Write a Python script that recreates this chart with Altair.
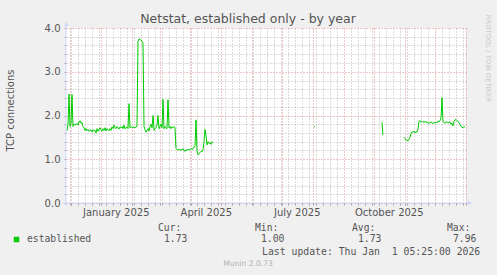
import altair as alt
import pandas as pd

# ---------------- data (daily averages) ----------------
seg1_start = "2024-11-28"
seg1_values = [
    1.65, 1.80, 2.49, 1.75, 1.82, 2.48, 1.75, 1.80, 1.78, 1.80,
    1.82, 1.78, 1.85, 1.88, 1.82, 1.84, 1.75, 1.72, 1.66, 1.70,
    1.65, 1.68, 1.64, 1.66, 1.67, 1.62, 1.68, 1.65, 1.66, 1.60,
    1.70, 1.64, 1.68, 1.72, 1.66, 1.64, 1.70, 1.66, 1.72, 1.65,
    1.70, 1.68, 1.65, 1.70, 1.66, 1.74, 1.70, 1.78, 1.72, 1.70,
    1.75, 1.72, 1.69, 1.74, 1.72, 1.75, 1.70, 1.78, 1.70, 1.72,
    1.74, 1.70, 2.27, 1.72, 1.75, 1.72, 1.74, 1.73, 1.72, 1.74,
    1.75, 3.70, 3.75, 3.74, 3.72, 3.70, 3.65, 1.75, 1.68, 1.62,
    1.66, 1.70, 1.65, 1.75, 1.80, 1.72, 2.00, 1.66, 1.70, 1.72,
    1.78, 2.00, 1.70, 1.75, 1.80, 1.72, 2.37, 1.70, 1.75, 1.72,
    1.70, 2.36, 1.72, 1.75, 1.70, 1.74, 1.72, 1.75, 1.72, 1.25,
    1.22, 1.21, 1.23, 1.20, 1.22, 1.21, 1.24, 1.20, 1.18, 1.22,
    1.20, 1.23, 1.21, 1.22, 1.25, 1.22, 1.24, 1.28, 1.30, 1.90,
    1.20, 1.10, 1.13, 1.15, 1.18, 1.17, 1.22, 1.40, 1.68, 1.55,
    1.33, 1.40, 1.36, 1.38, 1.34, 1.40, 1.38,
]
seg2_start = "2025-08-02"
seg2_values = [1.76, 1.74]
seg3_start = "2025-10-09"
seg3_values = [1.84, 1.55]
seg4_start = "2025-10-31"
seg4_values = [
    1.50, 1.47, 1.44, 1.43, 1.42, 1.46, 1.50, 1.58, 1.63, 1.62,
    1.64, 1.60, 1.63, 1.62, 1.68, 1.87, 1.88, 1.86, 1.87, 1.84,
    1.86, 1.85, 1.86, 1.84, 1.83, 1.82, 1.84, 1.85, 1.83, 1.82,
    1.84, 1.83, 1.84, 1.83, 1.87, 1.86, 1.88, 1.95, 2.41, 1.86,
    1.84, 1.82, 1.85, 1.86, 1.83, 1.84, 1.85, 1.80, 1.82, 1.76,
    1.86, 1.90, 1.91, 1.88, 1.86, 1.84, 1.80, 1.75, 1.73, 1.72,
    1.75, 1.73,
]

title_text = "Netstat, established only - by year"
y_title = "TCP connections"
series_name = "established"
stat_headers = ["Cur:", "Min:", "Avg:", "Max:"]
stat_values = ["1.73", "1.00", "1.73", "7.96"]
last_update = "Last update: Thu Jan \u00a01 05:25:00 2026"
footer = "Munin 2.0.73"
side_text = "RRDTOOL / TOBI OETIKER"
y_ticks = [0, 0.2, 0.4, 0.6, 0.8, 1, 1.2, 1.4, 1.6, 1.8, 2, 2.2, 2.4, 2.6, 2.8,
           3, 3.2, 3.4, 3.6, 3.8, 4]

rows = []
for seg_id, (start, vals) in enumerate([(seg1_start, seg1_values), (seg2_start, seg2_values),
                                        (seg3_start, seg3_values), (seg4_start, seg4_values)]):
    for d, v in zip(pd.date_range(start, periods=len(vals), freq="D"), vals):
        rows.append({"date": d.strftime("%Y-%m-%dT05:25:00"), "value": v, "seg": seg_id})
df = pd.DataFrame(rows)


def dt(ts):
    return alt.DateTime(year=ts.year, month=ts.month, date=ts.day,
                        hours=ts.hour, minutes=ts.minute)


minor = list(pd.date_range("2024-12-02", "2025-12-29", freq="7D"))
major = list(pd.date_range("2024-12-01", "2026-01-01", freq="MS"))
label_pos = [pd.Timestamp(s) for s in ["2025-01-16 00:01", "2025-04-16 00:01",
                                       "2025-07-16 00:01", "2025-10-16 00:01"]]
x_values = [dt(t) for t in sorted(minor + major + label_pos)]

FONT = "DejaVu Sans"
MONO = "DejaVu Sans Mono"
TXT = "#555555"
AXIS = "#CFD6F8"
MGRID = "#E07070"
GRID = "#A8A8A8"
TICK = "#A0A0A0"

x_axis = alt.Axis(
    values=x_values, title=None, domain=False,
    ticks=True, tickSize=2, tickColor=TICK,
    tickOpacity={"condition": {"test": "minutes(datum.value) == 1", "value": 0}, "value": 1},
    labelExpr="minutes(datum.value) == 1 ? timeFormat(datum.value, '%B %Y') : ''",
    labelFont=FONT, labelFontSize=10, labelColor=TXT, labelPadding=2,
    labelFlush=False, labelOverlap=False, labelBound=False,
    grid=True, gridDash=[1, 2], gridWidth=1,
    gridColor={"condition": {"test": "date(datum.value) == 1 && hours(datum.value) == 0",
                             "value": MGRID}, "value": GRID},
    gridOpacity={"condition": {"test": "minutes(datum.value) == 1", "value": 0}, "value": 0.8},
)
y_axis = alt.Axis(
    values=y_ticks, title=None, domain=False,
    ticks=True, tickSize=2, tickColor=TICK,
    labelExpr="abs(datum.value - round(datum.value)) < 0.01 ? format(datum.value, '.1f') : ''",
    labelFont=FONT, labelFontSize=10, labelColor=TXT, labelPadding=4,
    labelOverlap=False, labelBound=False, labelFlush=False,
    grid=True, gridDash=[1, 2], gridWidth=1, gridOpacity=0.8,
    gridColor={"condition": {"test": "abs(datum.value - round(datum.value)) < 0.01",
                             "value": MGRID}, "value": GRID},
)

line = alt.Chart(df).mark_line(color="#00CC00", strokeWidth=1).encode(
    x=alt.X("date:T", axis=x_axis,
            scale=alt.Scale(domain=[alt.DateTime(year=2024, month=11, date=27, hours=5, minutes=25),
                                    alt.DateTime(year=2026, month=1, date=1, hours=5, minutes=25)])),
    y=alt.Y("value:Q", axis=y_axis, scale=alt.Scale(domain=[0, 4], nice=False, zero=True)),
    detail="seg:N",
)

one = pd.DataFrame({"k": [0]})
base = alt.Chart(one)

x_axis_line = base.mark_rule(color=AXIS, strokeWidth=1).encode(
    x=alt.value(-3), x2=alt.value(403), y=alt.value(175))
y_axis_line = base.mark_rule(color=AXIS, strokeWidth=1).encode(
    x=alt.value(0), y=alt.value(178), y2=alt.value(-3))
arrow_up = base.mark_point(shape="triangle-up", filled=True, color=AXIS, size=22, opacity=1).encode(
    x=alt.value(0.5), y=alt.value(-4))
arrow_right = base.mark_point(shape="triangle-right", filled=True, color=AXIS, size=22, opacity=1).encode(
    x=alt.value(404), y=alt.value(175))


def txt(s, x, y, size=10, font=FONT, color=TXT, align="left", angle=0, baseline="middle"):
    return base.mark_text(font=font, fontSize=size, color=color, align=align,
                          baseline=baseline, angle=angle).encode(
        x=alt.value(x), y=alt.value(y), text=alt.value(s))


layers = [line, x_axis_line, y_axis_line, arrow_up, arrow_right,
          txt(title_text, 182, -5, size=12.5, align="center", baseline="alphabetic"),
          txt(y_title, -55, 82.5, size=10, align="center", angle=270),
          txt(side_text, 421.5, 30.5, size=6.8, color="#C8C8C8", align="center", angle=90),
          txt(footer, 182, 236.3, size=7.6, color="#B0B0B0", align="center"),
          txt(series_name, -39, 211.3, size=9.7, font=MONO),
          txt(last_update, 196, 223.7, size=9.8, font=MONO)]

legend_box = base.mark_square(color="#00CC00", size=30, opacity=1).encode(
    x=alt.value(-49.5), y=alt.value(211.5))
layers.append(legend_box)

hx = [92, 189, 286, 381]
vx = [98, 195, 292, 387]
for h, v, a, b in zip(stat_headers, stat_values, hx, vx):
    layers.append(txt(h, a, 199.7, size=9.7, font=MONO))
    layers.append(txt(v, b, 211.3, size=9.7, font=MONO))

chart = alt.layer(*layers).properties(
    width=400, height=175,
    padding={"left": 66, "top": 28, "right": 31, "bottom": 72},
    autosize=alt.AutoSizeParams(type="none"),
    background="#F0F0F0",
).configure_view(fill="white", strokeWidth=0)

chart.save("out.html", embed_options={"renderer": "svg", "actions": False})
